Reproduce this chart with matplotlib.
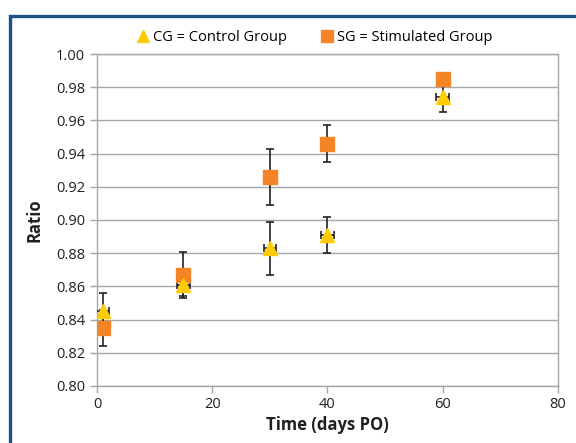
import matplotlib
matplotlib.use("Agg")
import matplotlib.pyplot as plt
from matplotlib.patches import Rectangle
from matplotlib.lines import Line2D

plt.rcParams['font.family'] = ['Open Sans', 'DejaVu Sans']

days = [1, 15, 30, 40, 60]
cg_ratio = [0.845, 0.861, 0.883, 0.891, 0.974]
cg_err = [0.011, 0.007, 0.016, 0.011, 0.009]
cg_xerr = [1.1, 1.1, 1.1, 1.1, 1.1]
sg_ratio = [0.835, 0.867, 0.926, 0.946, 0.985]
sg_err = [0.011, 0.014, 0.017, 0.011, 0.003]

cg_label = "CG = Control Group"
sg_label = "SG = Stimulated Group"
xticks = [0, 20, 40, 60, 80]
yticks = [0.80, 0.82, 0.84, 0.86, 0.88, 0.90, 0.92, 0.94, 0.96, 0.98, 1.00]

fig = plt.figure(figsize=(5.76, 4.43), dpi=100)
ax = fig.add_axes([0.1684, 0.1287, 0.8003, 0.7494])

# frame around the figure
fig.patches.append(Rectangle((9.5/576, -0.1), 1.2, (443-15.5)/443 + 0.1,
                             transform=fig.transFigure, fill=False,
                             edgecolor='#1F5083', linewidth=2.4, zorder=0))

ax.set_axisbelow(True)
ax.grid(axis='y', color='#A6A6A6', linewidth=1.0)
ax.errorbar(days, sg_ratio, yerr=sg_err, fmt='none', ecolor='#222222',
            elinewidth=1.2, capsize=3, capthick=1.2, zorder=3)
ax.errorbar(days, cg_ratio, yerr=cg_err, xerr=cg_xerr, fmt='none', ecolor='#222222',
            elinewidth=1.2, capsize=3, capthick=1.2, zorder=3)
ax.plot(days, sg_ratio, linestyle='none', marker='s', markersize=9.5,
        color='#F58426', zorder=4)
ax.plot(days, cg_ratio, linestyle='none', marker='^', markersize=10,
        color='#FFCC00', zorder=5)

ax.set_xlim(0, 80)
ax.set_ylim(0.80, 1.00)
ax.set_xticks(xticks)
ax.set_yticks(yticks)
ax.set_yticklabels([f"{v:.2f}" for v in yticks])
for s in ax.spines.values():
    s.set_color('#A6A6A6')
    s.set_linewidth(1.0)
ax.tick_params(axis='both', colors='#A6A6A6', labelcolor='#231F20',
               labelsize=10.5, length=5, width=1.0)
ax.tick_params(axis='x', pad=3)
ax.set_xlabel("Time (days PO)", fontsize=12, fontweight='bold', color='#231F20', labelpad=3)
ax.set_ylabel("Ratio", fontsize=12, fontweight='bold', color='#231F20', labelpad=9)

handles = [Line2D([], [], linestyle='none', marker='^', markersize=9, color='#FFCC00'),
           Line2D([], [], linestyle='none', marker='s', markersize=9, color='#F58426')]
fig.legend(handles, [cg_label, sg_label], loc='center', bbox_to_anchor=(0.545, 0.915),
           ncol=2, frameon=False, fontsize=10.5, handletextpad=0.2, columnspacing=2.2,
           handlelength=1.0)

fig.savefig("out.png", dpi=100)
